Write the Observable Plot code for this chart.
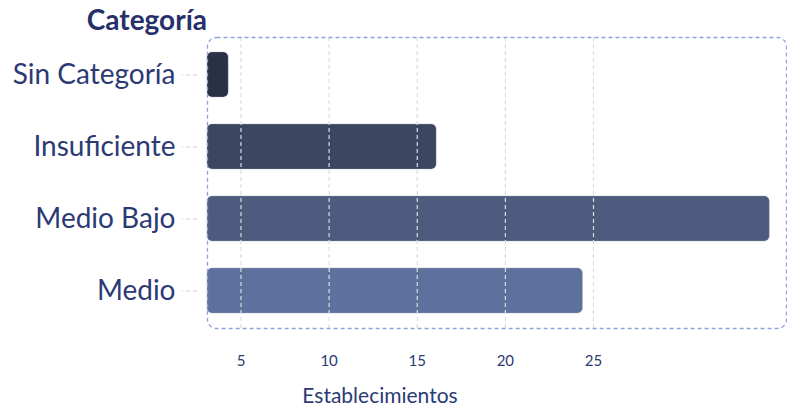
<!DOCTYPE html>
<html>
<head>
<meta charset="utf-8">
<script src="https://cdn.jsdelivr.net/npm/d3@7"></script>
<script src="https://cdn.jsdelivr.net/npm/@observablehq/plot@0.6"></script>
<style>
  html, body { margin: 0; padding: 0; background: #ffffff; }
  #chart { width: 787px; height: 407px; position: relative; }
</style>
</head>
<body>
<div id="chart"></div>
<script>
// Data
const categories = ["Sin Categoría", "Insuficiente", "Medio Bajo", "Medio"];
const barStart = [3.1, 3.1, 3.1, 3.1];
const barEnd = [4.3, 16.1, 35.0, 24.4];
const barColors = ["#2a3045", "#3b4661", "#4c5b7e", "#5e719e"];
const xTicks = [5, 10, 15, 20, 25];
const xDomain = [3.1, 35.95];
const yTitle = "Categoría";
const xTitle = "Establecimientos";

const data = categories.map((c, i) => ({cat: c, x1: barStart[i], x2: barEnd[i], color: barColors[i]}));

const navy = "#2b3a74";

const plot = Plot.plot({
  width: 787,
  height: 407,
  marginLeft: 207,
  marginRight: 1,
  marginTop: 37,
  marginBottom: 79,
  style: {fontFamily: "Lato, sans-serif", background: "#ffffff", overflow: "visible"},
  x: {domain: xDomain, label: null},
  y: {domain: categories, paddingInner: 0.38, paddingOuter: 0.19, label: null},
  marks: [
    Plot.barX(data, {y: "cat", x1: "x1", x2: "x2", fill: "color", rx: 5, stroke: "#9aa0ad", strokeWidth: 0.6, strokeOpacity: 0.6}),
    Plot.ruleX(xTicks, {stroke: "#dcdcdc", strokeWidth: 1.2, strokeDasharray: "4,3"}),
    Plot.frame({stroke: "#8ea3dc", strokeWidth: 1.3, strokeDasharray: "4,3", rx: 9}),
    Plot.axisY({tickSize: 15, tickPadding: 7, dx: -10, fontSize: 28, fill: navy, stroke: "#cfcfcf", strokeDasharray: "4,3", label: null}),
    Plot.axisX({ticks: xTicks, tickSize: 0, tickPadding: 27, fontSize: 15, fill: navy, label: null})
  ]
});

const svg = d3.select(plot);
svg.append("text")
  .attr("x", 207).attr("y", 30)
  .attr("text-anchor", "end")
  .attr("font-family", "Lato, sans-serif")
  .attr("font-weight", "bold")
  .attr("font-size", 28)
  .attr("fill", "#26306a")
  .text(yTitle);
svg.append("text")
  .attr("x", 380).attr("y", 403)
  .attr("text-anchor", "middle")
  .attr("font-family", "Lato, sans-serif")
  .attr("font-size", 21)
  .attr("fill", navy)
  .text(xTitle);

document.getElementById("chart").appendChild(plot);
</script>
</body>
</html>
